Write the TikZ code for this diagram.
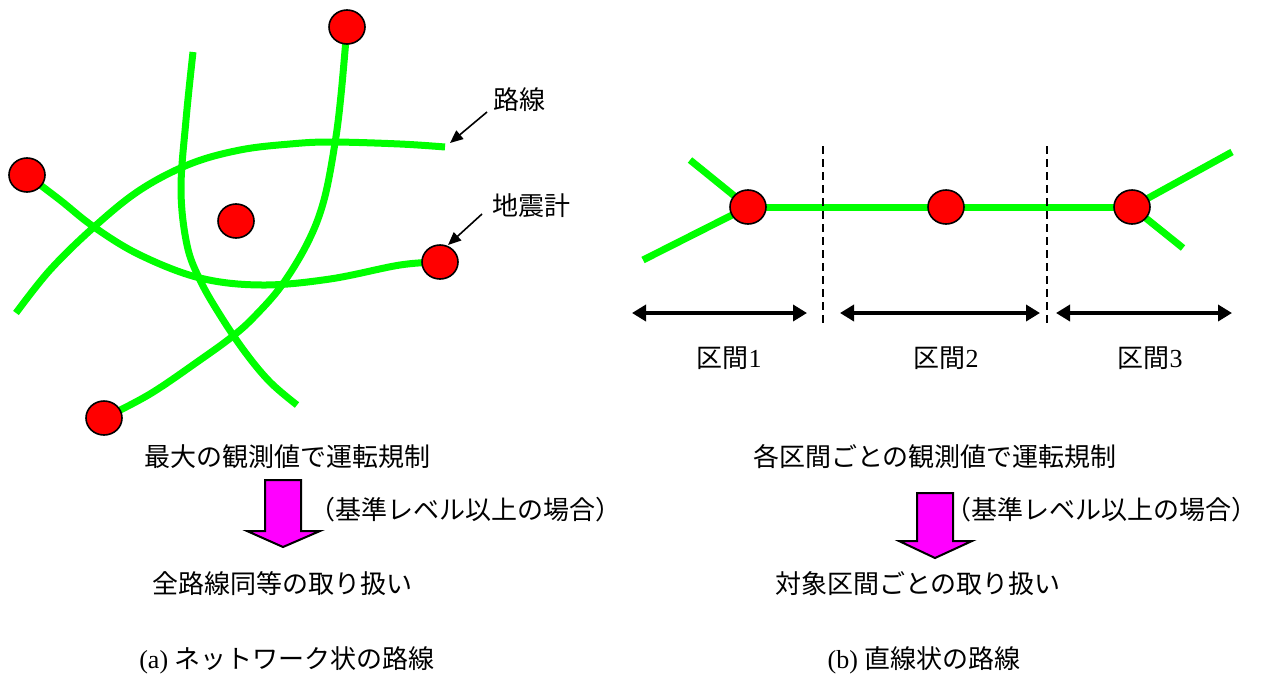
\documentclass[tikz,border=0pt]{standalone}
\usepackage{fontspec}
\setmainfont{Liberation Serif}
\newfontfamily\cjk{Noto Sans CJK JP}
\usetikzlibrary{shapes.geometric,arrows.meta}
\definecolor{routegreen}{RGB}{0,255,0}
\definecolor{sensorred}{RGB}{255,0,0}
\definecolor{bigmagenta}{RGB}{255,0,255}
\tikzset{
  route/.style={draw=routegreen,line width=3.5pt},
  sensor/.style={ellipse,draw=black,fill=sensorred,line width=0.8pt,minimum width=18pt,minimum height=17pt,inner sep=0pt},
  lbl/.style={font=\fontsize{13}{15}\selectfont,inner sep=0pt},
  ptr/.style={draw=black,line width=0.8pt,-{Triangle[length=6.5pt,width=5.5pt]}},
  darrow/.style={draw=black,line width=2pt,{Triangle[length=7pt,width=8pt]}-{Triangle[length=7pt,width=8pt]}},
  divider/.style={draw=black,line width=1pt,dash pattern=on 4pt off 2.5pt},
  bigarrow/.style={draw=black,fill=bigmagenta,line width=1pt,line join=miter}
}
\begin{document}
\begin{tikzpicture}[x=0.5pt,y=-0.5pt]
\useasboundingbox (0,0) rectangle (1268,675);

% ---------- (a) network ----------
\coordinate (pTop) at (347,27);
\coordinate (pLeft) at (27,175);
\coordinate (pMid) at (236,221);
\coordinate (pRight) at (440,262);
\coordinate (pBot) at (104,418);
\coordinate (c1s) at (193,52);
\coordinate (c1e) at (297,405);
\coordinate (c3s) at (16,313);
\coordinate (c3e) at (445,147);

\draw[route] plot[smooth,tension=0.6] coordinates {(c1s) (186,120) (181,190) (187,245) (200,280) (220,315) (245,352) (270,382) (c1e)};
\draw[route] plot[smooth,tension=0.6] coordinates {(pTop) (341,95) (335,143) (324,200) (308,242) (282,285) (255,316) (233,336) (200,360) (150,394) (pBot)};
\draw[route] plot[smooth,tension=0.6] coordinates {(c3s) (50,270) (94,227) (140,190) (190,164) (240,150) (290,144) (331,142) (400,144) (c3e)};
\draw[route] plot[smooth,tension=0.6] coordinates {(pLeft) (60,200) (94,227) (140,255) (200,278) (262,285) (330,279) (400,265) (pRight)};

\node[sensor] (sTop) at (pTop) {};
\node[sensor] (sLeft) at (pLeft) {};
\node[sensor] (sMid) at (pMid) {};
\node[sensor] (sRight) at (pRight) {};
\node[sensor] (sBot) at (pBot) {};

\node[lbl] (lRoute) at (519,100) {\cjk 路線};
\node[lbl] (lSeis) at (531,206) {\cjk 地震計};
\coordinate (p1s) at (487,112);
\coordinate (p1e) at (450,143);
\coordinate (p2s) at (482,214);
\coordinate (p2e) at (448,245);
\draw[ptr] (p1s) -- (p1e);
\draw[ptr] (p2s) -- (p2e);

\node[lbl] (tA1) at (287,457) {\cjk 最大の観測値で運転規制};
\draw[bigarrow] (265,480) -- (301,480) -- (301,531) -- (320,531) -- (283,547) -- (247,531) -- (265,531) -- cycle;
\node[lbl,anchor=west] (tA2) at (309,510) {\cjk （基準レベル以上の場合）};
\node[lbl] (tA3) at (282,584) {\cjk 全路線同等の取り扱い};
\node[lbl] (tA4) at (287,660) {(a) {\cjk ネットワーク状の路線}};

% ---------- (b) linear ----------
\coordinate (q1) at (748,207);
\coordinate (q2) at (946,207);
\coordinate (q3) at (1132,207);
\coordinate (b1) at (690,160);
\coordinate (b2) at (643,260);
\coordinate (b3) at (1232,152);
\coordinate (b4) at (1183,248);
\draw[route] (b1) -- (q1);
\draw[route] (b2) -- (q1);
\draw[route] (q1) -- (q3);
\draw[route] (q3) -- (b3);
\draw[route] (q3) -- (b4);
\node[sensor] (r1) at (q1) {};
\node[sensor] (r2) at (q2) {};
\node[sensor] (r3) at (q3) {};

\coordinate (d1t) at (823,146);
\coordinate (d1b) at (823,325);
\coordinate (d2t) at (1047,146);
\coordinate (d2b) at (1047,325);
\draw[divider] (d1t) -- (d1b);
\draw[divider] (d2t) -- (d2b);

\coordinate (a1l) at (632,313);
\coordinate (a1r) at (807,313);
\coordinate (a2l) at (840,313);
\coordinate (a2r) at (1040,313);
\coordinate (a3l) at (1056,313);
\coordinate (a3r) at (1232,313);
\draw[darrow] (a1l) -- (a1r);
\draw[darrow] (a2l) -- (a2r);
\draw[darrow] (a3l) -- (a3r);

\node[lbl] (k1) at (729,358) {{\cjk 区間}1};
\node[lbl] (k2) at (946,358) {{\cjk 区間}2};
\node[lbl] (k3) at (1150,358) {{\cjk 区間}3};

\node[lbl] (tB1) at (935,457) {\cjk 各区間ごとの観測値で運転規制};
\draw[bigarrow] (917,493) -- (953,493) -- (953,541) -- (972,541) -- (935,558) -- (899,541) -- (917,541) -- cycle;
\node[lbl,anchor=west] (tB2) at (945,510) {\cjk （基準レベル以上の場合）};
\node[lbl] (tB3) at (918,584) {\cjk 対象区間ごとの取り扱い};
\node[lbl] (tB4) at (924,660) {(b) {\cjk 直線状の路線}};
\end{tikzpicture}
\end{document}
